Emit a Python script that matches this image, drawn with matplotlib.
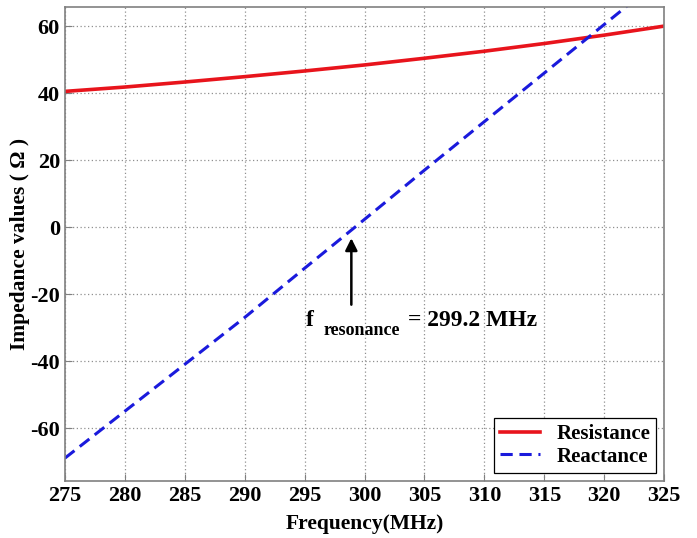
import matplotlib

matplotlib.use("Agg")
import matplotlib.pyplot as plt

# frequency sweep (MHz) and impedance
freq = [275, 280, 285, 290, 295, 300, 305, 310, 315, 320, 325]
resistance = [40.5, 41.8, 43.3, 44.9, 46.6, 48.4, 50.4, 52.5, 54.8, 57.3, 60.0]
reactance = [-69.0, -55.0, -41.0, -27.0, -12.3, 2.3, 17.0, 31.5, 46.0, 60.5, 75.0]

f_res = 299.2
x_ticks = [275, 280, 285, 290, 295, 300, 305, 310, 315, 320, 325]
y_ticks = [-60, -40, -20, 0, 20, 40, 60]

plt.rcParams.update(
    {
        "font.family": ["Liberation Serif", "DejaVu Serif"],
        "font.weight": "bold",
        "axes.labelweight": "bold",
        "axes.unicode_minus": False,
    }
)

fig = plt.figure(figsize=(6.97, 5.38), dpi=100)
ax = fig.add_axes([0.093, 0.106, 0.860, 0.881])

ax.plot(freq, resistance, color="#e8141c", linewidth=2.6, label="Resistance")
ax.plot(freq, reactance, color="#1a1adc", linewidth=2.2, linestyle=(0, (4, 2.2)),
        label="Reactance")

ax.set_xlim(275, 325)
ax.set_ylim(-75.8, 65.7)
ax.set_xticks(x_ticks)
ax.set_yticks(y_ticks)
ax.tick_params(direction="in", length=5, labelsize=16, color="#808080", labelcolor="black")
for lab in ax.get_xticklabels() + ax.get_yticklabels():
    lab.set_fontweight("bold")
ax.grid(True, linestyle=(0, (1, 2)), color="#909090", linewidth=0.9)
for sp in ax.spines.values():
    sp.set_color("#808080")
    sp.set_linewidth(1.2)

ax.set_xlabel("Frequency(MHz)", fontsize=15.5, labelpad=6)
ax.set_ylabel("Impedance values ( \u03a9 )", fontsize=15.5, labelpad=0)

# resonance marker
ax.annotate("", xy=(f_res - 0.3, -2.5), xytext=(f_res - 0.3, -24),
            arrowprops=dict(arrowstyle="-|>", color="black", lw=1.8,
                            mutation_scale=18))
ax.text(295.1, -27.8, "f", fontsize=17, ha="left", va="center")
ax.text(296.6, -31.0, "resonance", fontsize=13, ha="left", va="center")
ax.text(303.6, -27.8, f"= {f_res} MHz", fontsize=17, ha="left", va="center")

leg = ax.legend(loc="lower right", bbox_to_anchor=(0.987, 0.017), fontsize=15,
                frameon=True, fancybox=False, edgecolor="black", framealpha=1,
                handlelength=1.9, borderpad=0.3, labelspacing=0.12,
                handletextpad=0.8, borderaxespad=0)
leg.get_frame().set_linewidth(0.9)

fig.savefig("out.png", dpi=100)
